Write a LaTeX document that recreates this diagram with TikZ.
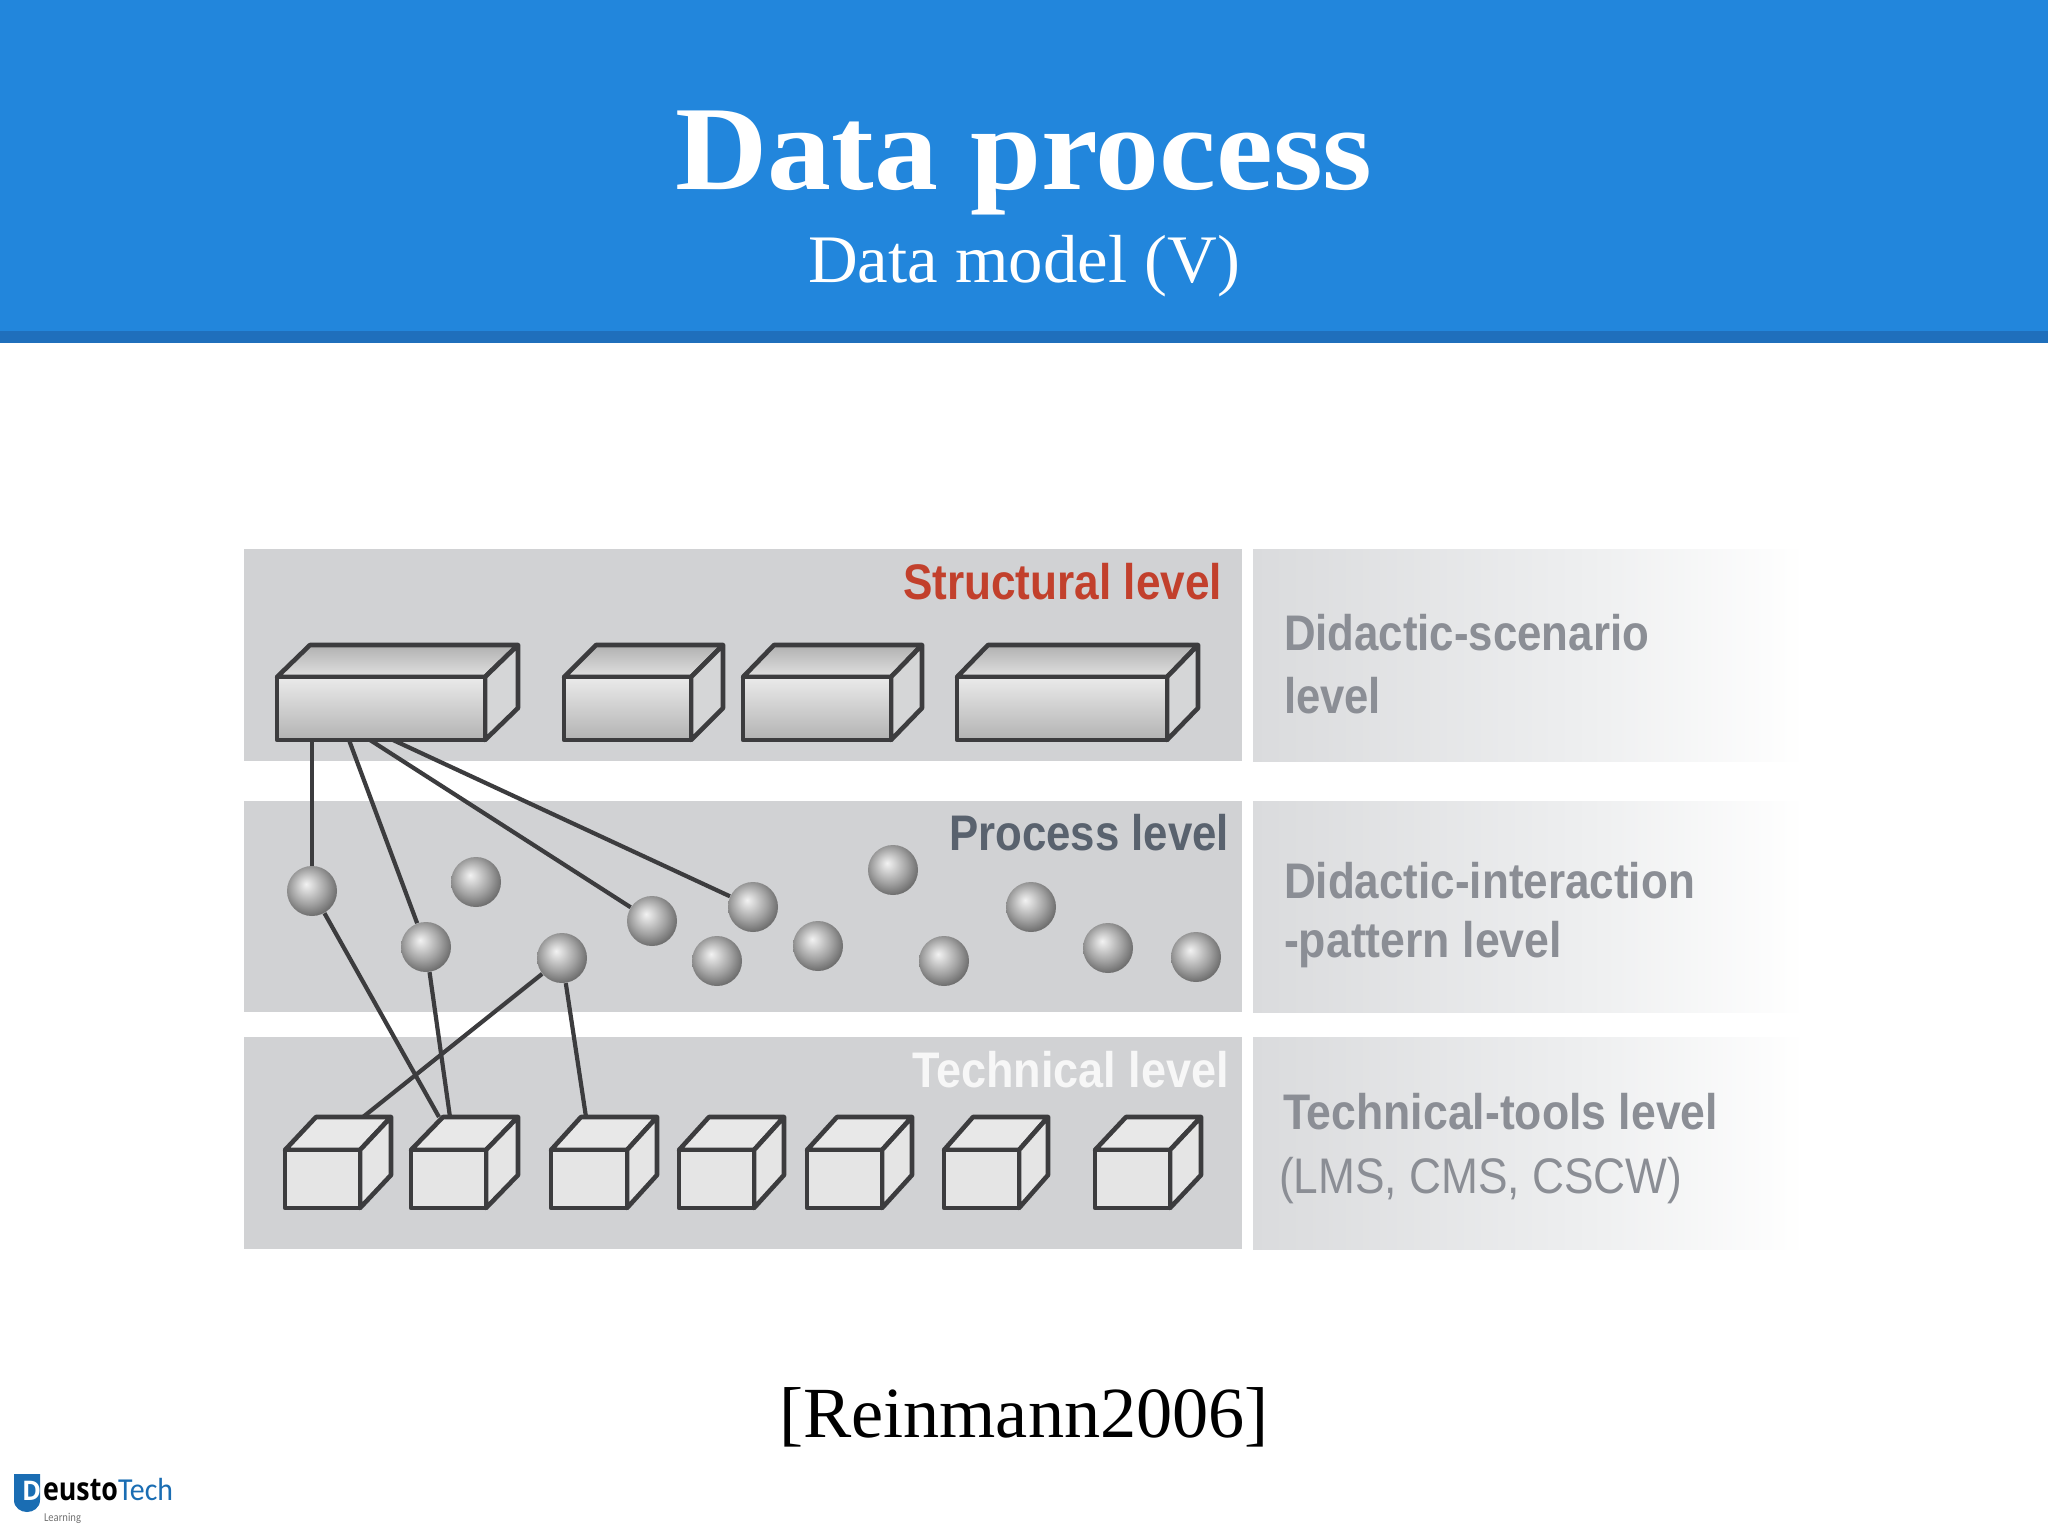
\documentclass[tikz,border=0pt]{standalone}
\usepackage{fontspec}
\usepackage{graphicx}
\usetikzlibrary{fit}
\setmainfont{Liberation Serif}
\newfontfamily\heavysans{Liberation Sans}
\newfontfamily\logofont{Open Sans}
\newfontfamily\logolight{Carlito}
\definecolor{headblue}{HTML}{2286DC}
\definecolor{stripblue}{HTML}{1F6FBC}
\definecolor{panelgray}{HTML}{D1D2D4}
\definecolor{rightA}{HTML}{DADBDD}
\definecolor{rightB}{HTML}{EEEFF0}
\definecolor{linegray}{HTML}{3C3C3E}
\definecolor{labelgray}{HTML}{8B8E95}
\definecolor{logoblue}{HTML}{1A6DB3}
\definecolor{structred}{HTML}{C2402C}
\definecolor{procslate}{HTML}{59626E}
\pgfdeclareradialshading{sph}{\pgfpoint{-6bp}{7bp}}{%
  rgb(0bp)=(0.95,0.95,0.95);rgb(7bp)=(0.83,0.83,0.83);rgb(18bp)=(0.63,0.63,0.63);
  rgb(28bp)=(0.43,0.43,0.43);rgb(34bp)=(0.36,0.36,0.36);rgb(50bp)=(0.36,0.36,0.36)}
\newsavebox{\fitbox}
\newcommand{\fitw}[2]{\sbox{\fitbox}{#2}\pgfmathsetmacro{\fitr}{#1*0.5/\the\wd\fitbox}\scalebox{\fitr}[1]{\usebox{\fitbox}}}
\tikzset{
  x=0.5pt,y=-0.5pt,
  outl/.style={draw=linegray,line width=2.3pt,line join=round},
  toplong/.style={outl,top color=gray!62,bottom color=gray!24},
  sidelong/.style={outl,fill=panelgray!92!white},
  frontlong/.style={outl,top color=gray!16,bottom color=gray!60},
  topcube/.style={outl,fill=gray!18},
  sidecube/.style={outl,fill=gray!20},
  frontcube/.style={outl,fill=gray!20},
  ball/.style={circle,minimum size=25pt,inner sep=0pt,shading=sph},
  link/.style={draw=linegray,line width=2.1pt},
  txt/.style={inner sep=0pt,outer sep=0pt},
  leftlab/.style={txt,anchor=base east,font=\heavysans\bfseries\fontsize{25}{25}\selectfont},
  rightlab/.style={txt,anchor=base west,text=labelgray,font=\heavysans\bfseries\fontsize{25}{25}\selectfont},
}
% name, x0, x1, ytop, ybottom, dx, dy, top style, side style, front style
\newcommand{\solidbox}[9]{%
  \def\nm{#1}\def\xa{#2}\def\xb{#3}\def\ya{#4}\def\yb{#5}\def\dxx{#6}\def\dyy{#7}%
  \path[#8] (\xa,\ya) -- ++(\dxx,-\dyy) -- (\xb+\dxx,\ya-\dyy) -- (\xb,\ya) -- cycle;
  \path[#9] (\xb,\ya) -- ++(\dxx,-\dyy) -- (\xb+\dxx,\yb-\dyy) -- (\xb,\yb) -- cycle;
  \finishbox}
\newcommand{\finishbox}[1]{%
  \coordinate (\nm sw) at (\xa,\yb);\coordinate (\nm ne) at (\xb,\ya);
  \node[fit=(\nm sw)(\nm ne),inner sep=0pt,#1] (\nm) {};}
\begin{document}
\begin{tikzpicture}
\useasboundingbox (0,0) rectangle (2048,1536);
\fill[white] (0,0) rectangle (2048,1536);
% header
\fill[headblue] (0,0) rectangle (2048,331);
\fill[stripblue] (0,331) rectangle (2048,343);
\node[txt,anchor=base,text=white,font=\bfseries\fontsize{60}{60}\selectfont] (title) at (1024,189) {\fitw{697}{Data process}};
\node[txt,anchor=base,text=white,font=\fontsize{34}{34}\selectfont] (subtitle) at (1024,282) {\fitw{432}{Data model (V)}};
% panels
\foreach \ya/\yb in {549/761,801/1012,1037/1249}{
  \fill[panelgray] (244,\ya) rectangle (1242,\yb);
  \shade[left color=rightA,right color=rightB] (1253,\ya) rectangle (1590,\yb);
  \shade[left color=rightB,right color=white] (1590,\ya) rectangle (1805,\yb);
}
% structural boxes
\solidbox{b1}{277}{485}{677}{740}{33}{32}{toplong}{sidelong}{frontlong}
\solidbox{b2}{564}{691}{677}{740}{32}{32}{toplong}{sidelong}{frontlong}
\solidbox{b3}{743}{891}{677}{740}{31}{32}{toplong}{sidelong}{frontlong}
\solidbox{b4}{957}{1167}{677}{740}{31}{32}{toplong}{sidelong}{frontlong}
% technical cubes
\solidbox{c1}{285}{360}{1150}{1208}{31}{33}{topcube}{sidecube}{frontcube}
\solidbox{c2}{411}{486}{1150}{1208}{32}{33}{topcube}{sidecube}{frontcube}
\solidbox{c3}{551}{627}{1150}{1208}{30}{33}{topcube}{sidecube}{frontcube}
\solidbox{c4}{679}{754}{1150}{1208}{30}{33}{topcube}{sidecube}{frontcube}
\solidbox{c5}{807}{882}{1150}{1208}{30}{33}{topcube}{sidecube}{frontcube}
\solidbox{c6}{944}{1019}{1150}{1208}{29}{33}{topcube}{sidecube}{frontcube}
\solidbox{c7}{1095}{1170}{1150}{1208}{31}{33}{topcube}{sidecube}{frontcube}
% spheres
\foreach \nm/\px/\py in {s1/312/891,s2/476/882,s3/426/947,s4/562/958,s5/652/921,s6/753/907,s7/717/961,
  s8/818/946,s9/893/870,s10/944/961,s11/1031/907,s12/1108/948,s13/1196/957}{
  \node[ball] (\nm) at (\px,\py) {};
}
% connector anchors on the solids
\coordinate (b1a) at (312,740);
\coordinate (b1b) at (349,740);
\coordinate (b1c) at (370,740);
\coordinate (b1d) at (393,740);
\coordinate (c1a) at (363,1117);
\coordinate (c2a) at (439,1117);
\coordinate (c2b) at (450,1117);
\coordinate (c3a) at (586,1117);
% connectors
\draw[link] (b1a) -- (s1);
\draw[link] (b1b) -- (s3);
\draw[link] (b1c) -- (s5);
\draw[link] (b1d) -- (s6);
\draw[link] (s1) -- (c2a);
\draw[link] (s3) -- (c2b);
\draw[link] (s4) -- (c1a);
\draw[link] (s4) -- (c3a);
% left labels
\node[leftlab,text=structred] (lab1) at (1222,599) {\fitw{319}{Structural level}};
\node[leftlab,text=procslate] (lab2) at (1229,850) {\fitw{280}{Process level}};
\node[leftlab,text=white!94!gray] (lab3) at (1229,1087) {\fitw{317}{Technical level}};
% right labels
\node[rightlab] (r1a) at (1284,650) {\fitw{365}{Didactic-scenario}};
\node[rightlab] (r1b) at (1284,713) {\fitw{97}{level}};
\node[rightlab] (r2a) at (1284,898) {\fitw{411}{Didactic-interaction}};
\node[rightlab] (r2b) at (1284,957) {\fitw{278}{-pattern level}};
\node[rightlab] (r3a) at (1283,1129) {\fitw{435}{Technical-tools level}};
\node[rightlab,font=\heavysans\fontsize{25}{25}\selectfont] (r3b) at (1279,1193) {\fitw{403}{(LMS, CMS, CSCW)}};
% citation
\node[txt,anchor=base,text=black,font=\fontsize{36}{36}\selectfont] (cite) at (1024,1437) {\fitw{490}{[Reinmann2006]}};
% logo
\fill[logoblue] (14,1474) -- (40,1474) -- (40,1500) .. controls (40,1508) and (33,1512) .. (27,1512) .. controls (21,1512) and (14,1508) .. (14,1500) -- cycle;
\node[txt,anchor=base west,text=white,font=\logofont\bfseries\fontsize{13.5}{13.5}\selectfont] (logoD) at (22,1500) {\fitw{19}{D}};
\node[txt,anchor=base west,text=black,font=\logofont\fontsize{16}{16}\selectfont\bfseries] (logoE) at (43,1500) {\fitw{75}{eusto}};
\node[txt,anchor=base west,text=logoblue,font=\logolight\fontsize{16}{16}\selectfont] (logoT) at (118,1500) {\fitw{55}{Tech}};
\node[txt,anchor=base west,text=black!55,font=\logolight\fontsize{6}{6}\selectfont] (logoL) at (44,1521) {\fitw{37}{Learning}};
\end{tikzpicture}
\end{document}
